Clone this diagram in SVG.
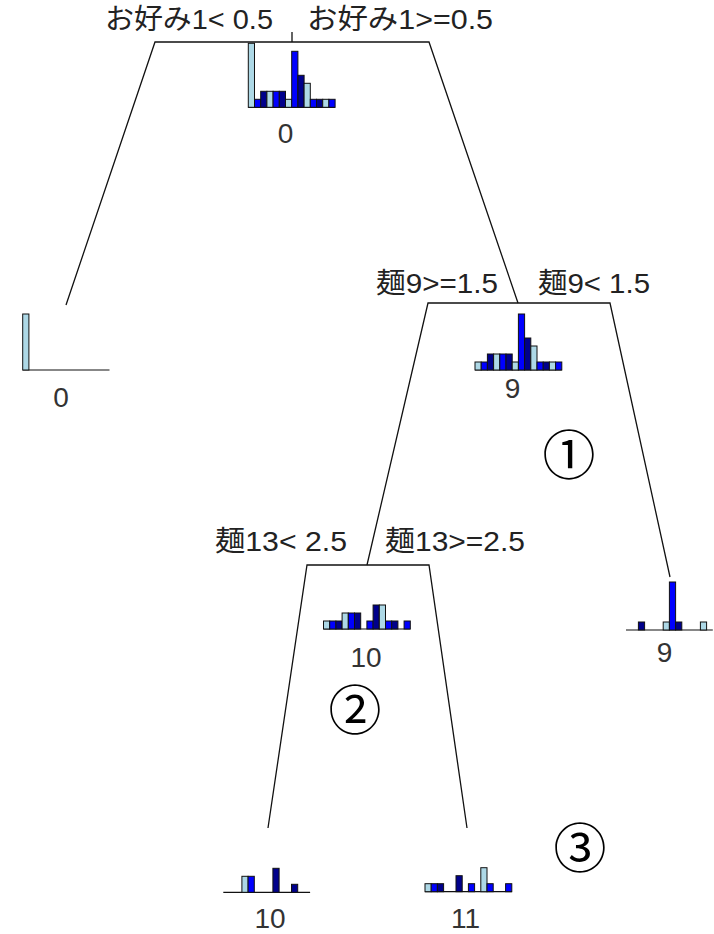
<svg xmlns="http://www.w3.org/2000/svg" width="714" height="934" viewBox="0 0 714 934">
<style>
  .lb { fill: #ADD8E6; stroke: #111; stroke-width: 1; }
  .b { fill: #0000FF; stroke: #111; stroke-width: 1; }
  .db { fill: #00008B; stroke: #111; stroke-width: 1; }
  .base { stroke: #111; stroke-width: 1.2; }
  .br { fill: none; stroke: #111; stroke-width: 1.3; }
  .lab { font-family: "Liberation Sans", "Noto Sans CJK JP", sans-serif; font-size: 28px; fill: #222; }
  .num { font-family: "Liberation Sans", sans-serif; font-size: 28px; fill: #333; text-anchor: middle; }
  .circ { font-family: "Noto Sans CJK JP", sans-serif; font-size: 53px; fill: #000; text-anchor: middle; }
</style>
<rect width="714" height="934" fill="#fff"/>

<g id="connectors">
  <line class="br" x1="292" y1="32" x2="292" y2="42"/>
  <polyline class="br" points="66,305 155,42 429,42 518,303"/>
  <polyline class="br" points="367,565 428,303 610,303 670,577"/>
  <polyline class="br" points="268,828 307,565 429,565 467,828"/>
</g>

<g id="split-labels">
  <text class="lab" x="105" y="29" textLength="168" lengthAdjust="spacingAndGlyphs">お好み1&lt; 0.5</text>
  <text class="lab" x="307" y="29" textLength="186" lengthAdjust="spacingAndGlyphs">お好み1&gt;=0.5</text>
  <text class="lab" x="376" y="293" textLength="122" lengthAdjust="spacingAndGlyphs">麺9&gt;=1.5</text>
  <text class="lab" x="538" y="293" textLength="112" lengthAdjust="spacingAndGlyphs">麺9&lt; 1.5</text>
  <text class="lab" x="215" y="551" textLength="132" lengthAdjust="spacingAndGlyphs">麺13&lt; 2.5</text>
  <text class="lab" x="385" y="551" textLength="140" lengthAdjust="spacingAndGlyphs">麺13&gt;=2.5</text>
</g>

<g id="node-root">
  <g transform="translate(248.3,107.3)">
    <line class="base" x1="0" y1="0" x2="86.8" y2="0"/>
    <rect class="lb" x="0" y="-64" width="6.2" height="64"/>
    <rect class="b" x="6.2" y="-8" width="6.2" height="8"/>
    <rect class="db" x="12.4" y="-16" width="6.2" height="16"/>
    <rect class="lb" x="18.6" y="-16" width="6.2" height="16"/>
    <rect class="b" x="24.8" y="-16" width="6.2" height="16"/>
    <rect class="db" x="31" y="-16" width="6.2" height="16"/>
    <rect class="lb" x="37.2" y="-8" width="6.2" height="8"/>
    <rect class="b" x="43.4" y="-56" width="6.2" height="56"/>
    <rect class="db" x="49.6" y="-32" width="6.2" height="32"/>
    <rect class="lb" x="55.8" y="-24" width="6.2" height="24"/>
    <rect class="b" x="62" y="-8" width="6.2" height="8"/>
    <rect class="db" x="68.2" y="-8" width="6.2" height="8"/>
    <rect class="lb" x="74.4" y="-8" width="6.2" height="8"/>
    <rect class="b" x="80.6" y="-8" width="6.2" height="8"/>
  </g>
  <text class="num" x="285.5" y="143">0</text>
</g>

<g id="leaf-0">
  <g transform="translate(22.7,370)">
    <line class="base" x1="0" y1="0" x2="86.8" y2="0"/>
    <rect class="lb" x="0" y="-56" width="6.2" height="56"/>
  </g>
  <text class="num" x="61" y="406.5">0</text>
</g>

<g id="node-9">
  <g transform="translate(475,370)">
    <line class="base" x1="0" y1="0" x2="86.8" y2="0"/>
    <rect class="lb" x="0" y="-8" width="6.2" height="8"/>
    <rect class="b" x="6.2" y="-8" width="6.2" height="8"/>
    <rect class="db" x="12.4" y="-16" width="6.2" height="16"/>
    <rect class="lb" x="18.6" y="-16" width="6.2" height="16"/>
    <rect class="b" x="24.8" y="-16" width="6.2" height="16"/>
    <rect class="db" x="31" y="-16" width="6.2" height="16"/>
    <rect class="lb" x="37.2" y="-8" width="6.2" height="8"/>
    <rect class="b" x="43.4" y="-56" width="6.2" height="56"/>
    <rect class="db" x="49.6" y="-32" width="6.2" height="32"/>
    <rect class="lb" x="55.8" y="-24" width="6.2" height="24"/>
    <rect class="b" x="62" y="-8" width="6.2" height="8"/>
    <rect class="db" x="68.2" y="-8" width="6.2" height="8"/>
    <rect class="lb" x="74.4" y="-8" width="6.2" height="8"/>
    <rect class="b" x="80.6" y="-8" width="6.2" height="8"/>
  </g>
  <text class="num" x="512.5" y="398">9</text>
</g>

<g id="node-10">
  <g transform="translate(323.5,629)">
    <line class="base" x1="0" y1="0" x2="86.8" y2="0"/>
    <rect class="lb" x="0" y="-8" width="6.2" height="8"/>
    <rect class="b" x="6.2" y="-8" width="6.2" height="8"/>
    <rect class="db" x="12.4" y="-8" width="6.2" height="8"/>
    <rect class="lb" x="18.6" y="-16" width="6.2" height="16"/>
    <rect class="b" x="24.8" y="-16" width="6.2" height="16"/>
    <rect class="db" x="31" y="-16" width="6.2" height="16"/>
    <rect class="b" x="43.4" y="-8" width="6.2" height="8"/>
    <rect class="db" x="49.6" y="-24" width="6.2" height="24"/>
    <rect class="lb" x="55.8" y="-24" width="6.2" height="24"/>
    <rect class="b" x="62" y="-8" width="6.2" height="8"/>
    <rect class="db" x="68.2" y="-8" width="6.2" height="8"/>
    <rect class="b" x="80.6" y="-8" width="6.2" height="8"/>
  </g>
  <text class="num" x="366" y="666.5">10</text>
</g>

<g id="leaf-9">
  <g transform="translate(626,630)">
    <line class="base" x1="0" y1="0" x2="86.8" y2="0"/>
    <rect class="db" x="12.4" y="-8" width="6.2" height="8"/>
    <rect class="lb" x="37.2" y="-8" width="6.2" height="8"/>
    <rect class="b" x="43.4" y="-48" width="6.2" height="48"/>
    <rect class="db" x="49.6" y="-8" width="6.2" height="8"/>
    <rect class="lb" x="74.4" y="-8" width="6.2" height="8"/>
  </g>
  <text class="num" x="664.5" y="662">9</text>
</g>

<g id="leaf-10">
  <g transform="translate(223.3,892.3)">
    <line class="base" x1="0" y1="0" x2="86.8" y2="0"/>
    <rect class="lb" x="18.6" y="-16" width="6.2" height="16"/>
    <rect class="b" x="24.8" y="-16" width="6.2" height="16"/>
    <rect class="db" x="49.6" y="-24" width="6.2" height="24"/>
    <rect class="db" x="68.2" y="-8" width="6.2" height="8"/>
  </g>
  <text class="num" x="270" y="928">10</text>
</g>

<g id="leaf-11">
  <g transform="translate(425,891.7)">
    <line class="base" x1="0" y1="0" x2="86.8" y2="0"/>
    <rect class="lb" x="0" y="-8" width="6.2" height="8"/>
    <rect class="b" x="6.2" y="-8" width="6.2" height="8"/>
    <rect class="db" x="12.4" y="-8" width="6.2" height="8"/>
    <rect class="db" x="31" y="-16" width="6.2" height="16"/>
    <rect class="b" x="43.4" y="-8" width="6.2" height="8"/>
    <rect class="lb" x="55.8" y="-24" width="6.2" height="24"/>
    <rect class="b" x="62" y="-8" width="6.2" height="8"/>
    <rect class="b" x="80.6" y="-8" width="6.2" height="8"/>
  </g>
  <text class="num" x="465.5" y="928">11</text>
</g>

<g id="annotations">
  <text class="circ" x="569" y="475">①</text>
  <text class="circ" x="355" y="730">②</text>
  <text class="circ" x="580" y="868">③</text>
</g>
</svg>
